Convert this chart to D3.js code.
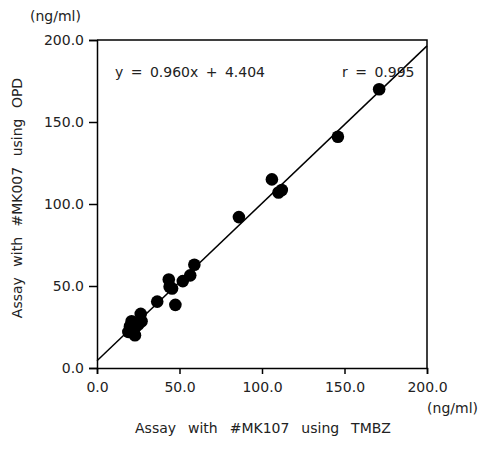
<!DOCTYPE html>
<html>
<head>
<meta charset="utf-8">
<script src="https://cdn.jsdelivr.net/npm/d3@7"></script>
<style>
  body { margin: 0; background: #fff; }
  text { font-family: "DejaVu Sans", sans-serif; font-size: 14px; fill: #222; }
</style>
</head>
<body>
<script>
var tmbz = [171, 146, 106, 110, 112, 86, 59, 56.5, 52, 43.5, 44, 45.5, 47.5, 36.5, 26.5, 27, 21, 20, 19, 23, 23, 25];
var opd  = [170, 141, 115, 107, 108.5, 92, 63, 56.5, 53, 54, 49.5, 48.5, 38.5, 40.5, 33, 28.5, 28.5, 25.5, 22, 20, 24.5, 26.5];
var ticks = [0, 50, 100, 150, 200];
var slope = 0.960, intercept = 4.404, rValue = 0.995;

var margin = {top: 40, right: 53, bottom: 82, left: 97},
    width = 480 - margin.left - margin.right,
    height = 450 - margin.top - margin.bottom;

var x = d3.scaleLinear().domain([0, 200]).range([0, width]);
var y = d3.scaleLinear().domain([0, 200]).range([height, 0]);

var svg = d3.select("body").append("svg")
    .attr("width", 480)
    .attr("height", 450)
    .append("g")
    .attr("transform", "translate(" + margin.left + "," + margin.top + ")");

// box (top and right sides)
svg.append("path")
    .attr("d", "M0,0H" + width + "V" + height)
    .attr("fill", "none")
    .attr("stroke", "#000")
    .attr("stroke-width", 1.5);

var xAxis = d3.axisBottom(x).tickValues(ticks).tickSize(6).tickPadding(8)
    .tickFormat(d3.format(".1f"));
var yAxis = d3.axisLeft(y).tickValues(ticks).tickSize(8).tickPadding(5)
    .tickFormat(d3.format(".1f"));

var gx = svg.append("g").attr("transform", "translate(0," + height + ")").call(xAxis);
var gy = svg.append("g").call(yAxis);
[gx, gy].forEach(function (g) {
    g.select(".domain").attr("stroke", "#000").attr("stroke-width", 1.5);
    g.selectAll(".tick line").attr("stroke", "#000").attr("stroke-width", 1.5);
    g.selectAll("text").style("font-family", "DejaVu Sans, sans-serif").style("font-size", "14px").attr("fill", "#222");
});

// regression line
svg.append("line")
    .attr("x1", x(0)).attr("y1", y(intercept))
    .attr("x2", x(200)).attr("y2", y(slope * 200 + intercept))
    .attr("stroke", "#000")
    .attr("stroke-width", 1.5);

svg.selectAll("circle")
    .data(tmbz)
    .enter()
    .append("circle")
    .attr("r", 6.3)
    .attr("cx", function (d) { return x(d); })
    .attr("cy", function (d, i) { return y(opd[i]); })
    .attr("fill", "#000");

svg.append("text")
    .attr("x", 18).attr("y", 37)
    .style("word-spacing", "3px")
    .text("y = " + slope.toFixed(3) + "x + " + intercept.toFixed(3));

svg.append("text")
    .attr("x", 245).attr("y", 37)
    .style("word-spacing", "3px")
    .text("r = " + rValue.toFixed(3));

// units
svg.append("text")
    .attr("x", -67).attr("y", -19)
    .text("(ng/ml)");
svg.append("text")
    .attr("x", 381).attr("y", height + 45)
    .attr("text-anchor", "end")
    .text("(ng/ml)");

// axis titles
svg.append("text")
    .attr("x", width / 2 + 1).attr("y", height + 65)
    .attr("text-anchor", "middle")
    .style("word-spacing", "7.5px")
    .text("Assay with #MK107 using TMBZ");

svg.append("text")
    .attr("transform", "translate(-75," + (y(100) - 6) + ") rotate(-90)")
    .attr("text-anchor", "middle")
    .style("word-spacing", "6px")
    .text("Assay with #MK007 using OPD");
</script>
</body>
</html>
